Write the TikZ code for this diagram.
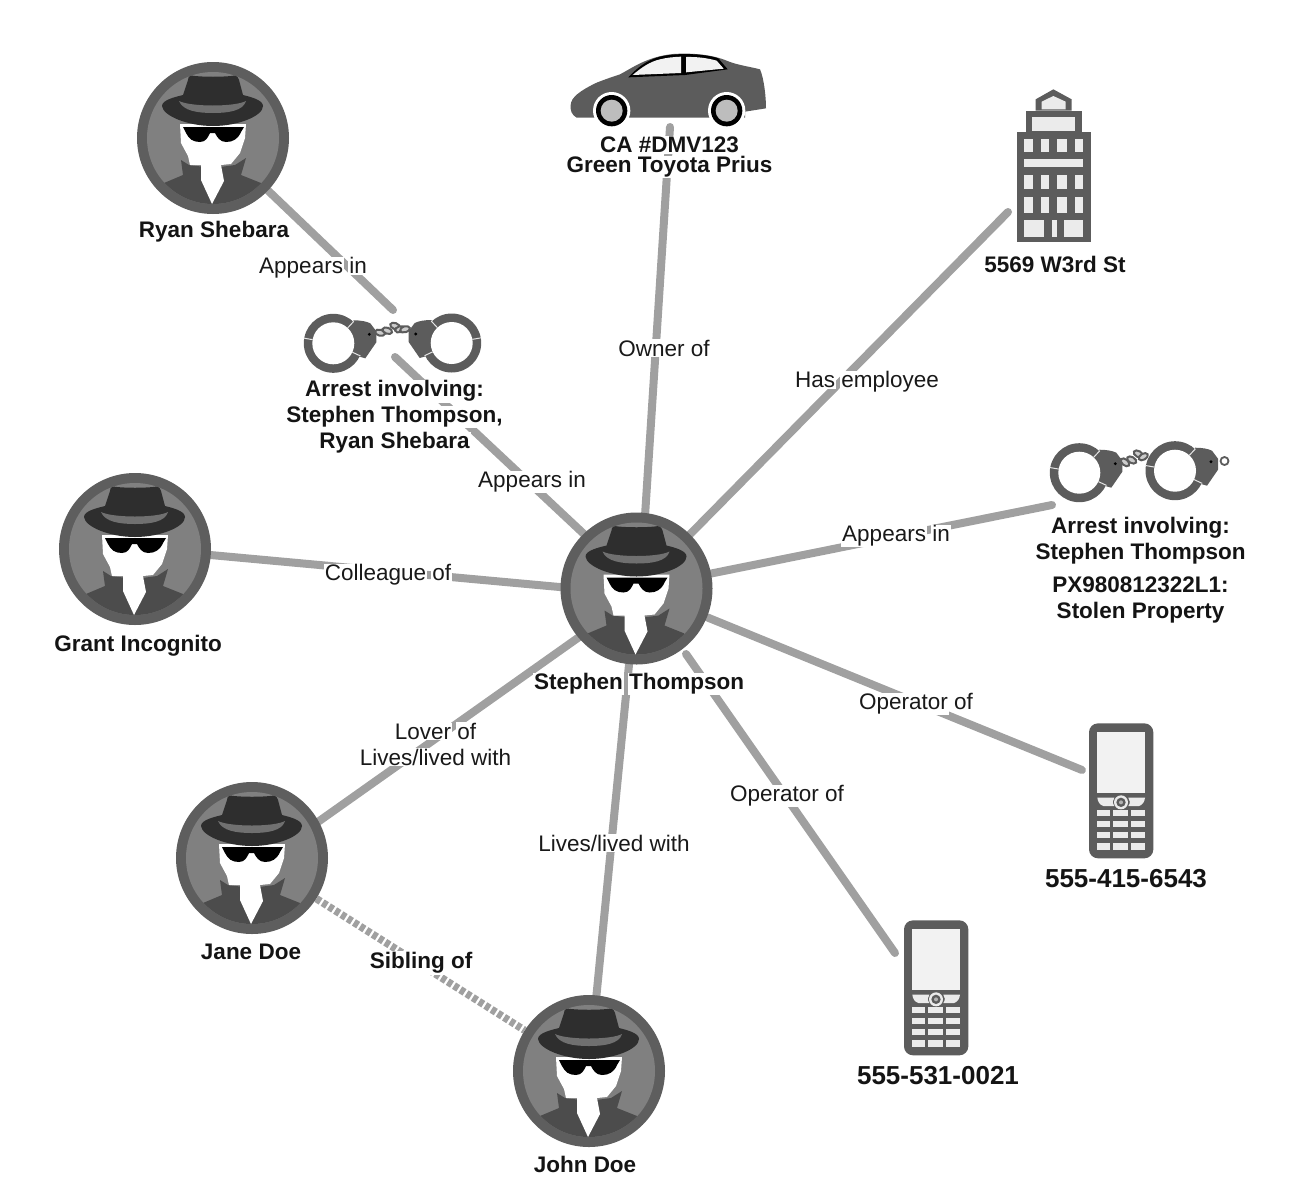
\documentclass[tikz,border=0pt]{standalone}
\usepackage{fontspec}
\setmainfont{Liberation Sans}
\setlength{\fboxsep}{1pt}
\lineskiplimit=-1000pt
\newcommand{\wb}[1]{\hspace{-1pt}\colorbox{white}{#1}\hspace{-1pt}}
\definecolor{lineg}{HTML}{A0A0A0}
\definecolor{ringg}{HTML}{5E5E5E}
\definecolor{innerg}{HTML}{808080}
\definecolor{hatg}{HTML}{2E2E2E}
\definecolor{bandg}{HTML}{707070}
\definecolor{coatg}{HTML}{4C4C4C}
\definecolor{icong}{HTML}{5C5C5C}
\definecolor{paneg}{HTML}{EBEBEB}
\tikzset{
  conn/.style={draw=lineg,line width=8pt,line cap=round},
  sib/.style={draw=lineg,line width=7.5pt,dash pattern=on 5pt off 2.4pt},
  person/.style={circle,minimum size=152pt,inner sep=0pt},
  edgelab/.style={font=\fontsize{22.5}{26}\selectfont,align=center,inner sep=0pt,text=black!90},
  namelab/.style={font=\fontsize{22.5}{26}\bfseries\selectfont,align=center,inner sep=0pt,text=black!92},
  carlab/.style={font=\fontsize{22.5}{20}\bfseries\selectfont,align=center,inner sep=0pt,text=black!92},
  numlab/.style={font=\fontsize{26}{30}\bfseries\selectfont,align=center,inner sep=0pt,text=black!92},
  seam/.style={draw=white!90!black,line width=1pt},
  chainlink/.style={draw=icong,line width=2pt,fill=white!80!black},
  agent/.pic={
    \fill[ringg] (0,0) circle (76);
    \fill[innerg] (0,0) circle (66);
    \begin{scope}
      \clip (0,0) circle (66);
      \fill[coatg] (-49,45) -- (-30,37) -- (-32,22) -- (-24,27) -- (0,30) -- (22,27) -- (33,20) -- (28,37) -- (48,45) -- (60,80) -- (-60,80) -- cycle;
    \end{scope}
    \fill[white] (-33,-14) -- (33,-14) -- (32,0) -- (27,15) -- (18,26) -- (8,27) -- (11,43) -- (-1,66) -- (-12,42) -- (-12,27) -- (-23,27) -- (-25,18) -- (-32,5) -- cycle;
    \fill[black] (-30,-11) -- (31,-11) -- (28,-6) .. controls (25,1) and (20,4) .. (13,4) .. controls (7,4) and (4,-1) .. (2,-5) -- (-3,-5) .. controls (-5,-1) and (-7,4) .. (-13,4) .. controls (-20,4) and (-24,1) .. (-27,-5) -- cycle;
    \fill[hatg] (-51,-32) .. controls (-50,-22) and (-25,-12) .. (0,-12) .. controls (25,-12) and (50,-22) .. (50,-32) .. controls (50,-38) and (38,-41) .. (30,-43) -- (26,-58) .. controls (25,-62) and (22,-63) .. (18,-62) .. controls (8,-61) and (-8,-61) .. (-18,-62) .. controls (-22,-63) and (-25,-62) .. (-25,-58) -- (-30,-43) .. controls (-38,-41) and (-51,-38) .. (-51,-32) -- cycle;
    \fill[bandg] (-34,-37) .. controls (-22,-31) and (22,-31) .. (33,-37) .. controls (30,-27) and (15,-25) .. (0,-25) .. controls (-15,-25) and (-30,-27) .. (-34,-37) -- cycle;
  },
  cuff/.pic={
    \fill[icong] (0,0) circle (29.5);
    \fill[icong] (20,-23) .. controls (27,-23) and (33,-22) .. (37,-20) -- (43,-12) -- (43,-1) -- (32,15) -- (25,13) -- cycle;
    \fill[white] (0,0) circle (21);
    \draw[seam] (-47:21) -- (-47:30);
    \draw[seam] (25:21) -- (25:30);
    \draw[seam] (190:21) -- (190:30);
    \fill[black] (36,-9) circle (1.6);
  },
  car/.pic={
    \begin{scope}[scale=1/3]
      \fill[icong] (32,195) .. controls (33,172) and (60,152) .. (110,128) .. controls (140,116) and (160,110) .. (180,103) .. controls (215,85) and (260,50) .. (340,42) .. controls (400,38) and (460,45) .. (500,62) .. controls (530,75) and (570,80) .. (600,88) .. controls (612,115) and (618,170) .. (618,205) -- (555,215) -- (555,233) -- (50,233) .. controls (35,225) and (30,210) .. (32,195) -- cycle;
      \fill[black] (205,112) .. controls (230,85) and (260,60) .. (300,50) .. controls (350,38) and (430,40) .. (475,55) -- (503,88) -- (375,105) -- cycle;
      \fill[white!95!black] (218,105) .. controls (245,82) and (270,65) .. (300,58) .. controls (320,53) and (340,51) .. (363,50) -- (363,99) -- cycle;
      \fill[white!95!black] (378,51) .. controls (415,50) and (445,55) .. (470,62) -- (491,86) -- (378,97) -- cycle;
      \foreach \w in {155,500} {
        \fill[white] (\w,212) circle (56);
        \fill[black] (\w,212) circle (47);
        \fill[white!74!black] (\w,212) circle (33);
      }
    \end{scope}
  },
  tower/.pic={
    \begin{scope}[scale=1/3]
      \fill[icong] (52,155) rectangle (272,487);
      \fill[icong] (78,92) rectangle (245,155);
      \fill[icong] (107,92) -- (107,58) -- (160,28) -- (215,58) -- (215,92) -- cycle;
      \fill[paneg] (125,88) -- (125,65) -- (160,48) -- (197,65) -- (197,88) -- cycle;
      \fill[paneg] (97,110) rectangle (225,153);
      \foreach \ya/\yb in {177/215,284/327,352/400} {
        \fill[paneg] (72,\ya) rectangle (100,\yb);
        \fill[paneg] (122,\ya) rectangle (148,\yb);
        \fill[paneg] (171,\ya) rectangle (200,\yb);
        \fill[paneg] (224,\ya) rectangle (250,\yb);
      }
      \fill[paneg] (72,237) rectangle (250,262);
      \fill[paneg] (72,420) rectangle (133,470);
      \fill[paneg] (155,420) rectangle (170,470);
      \fill[paneg] (193,420) rectangle (250,470);
    \end{scope}
  },
  mobile/.pic={
    \begin{scope}[scale=1/3]
      \fill[icong,rounded corners=9pt] (42,25) rectangle (235,430);
      \fill[white!95!black] (67,50) rectangle (210,235);
      \fill[paneg] (67,248) -- (118,248) .. controls (112,255) and (112,265) .. (118,273) -- (85,273) .. controls (75,270) and (68,260) .. (67,248) -- cycle;
      \fill[paneg] (210,248) -- (160,248) .. controls (166,255) and (166,265) .. (160,273) -- (192,273) .. controls (202,270) and (209,260) .. (210,248) -- cycle;
      \fill[paneg] (138,262) circle (21);
      \fill[icong] (138,262) circle (14);
      \fill[white!70!black] (138,262) circle (6);
      \foreach \ya/\yb in {285/304,317/337,350/370,384/405} {
        \fill[paneg] (67,\ya) rectangle (105,\yb);
        \fill[paneg] (115,\ya) rectangle (158,\yb);
        \fill[paneg] (168,\ya) rectangle (210,\yb);
      }
    \end{scope}
  }
}
\begin{document}
\begin{tikzpicture}[x=1pt,y=-1pt]
\useasboundingbox (0,0) rectangle (1311,1200);
% people
\node[person] (stephen) at (636.5,588.5) {};
\node[person] (ryan) at (213,138) {};
\node[person] (grant) at (135,549) {};
\node[person] (jane) at (252,858) {};
\node[person] (john) at (589,1071) {};
% connector ports
\coordinate (cuffAtop) at (393,310);
\coordinate (cuffAbot) at (395,357);
\coordinate (carport) at (670,127);
\coordinate (towerport) at (1008,212);
\coordinate (cuffBport) at (1052,505);
\coordinate (phoneAport) at (1082,770);
\coordinate (phoneBport) at (895,953);
\coordinate (stCuff) at (585,535);
\coordinate (stCar) at (645,516);
\coordinate (stGrant) at (565,587.5);
\coordinate (stJane) at (582,635);
\coordinate (stPhoneB) at (686,654);
\coordinate (janeEnd) at (315,824);
\coordinate (grantEnd) at (205,554.5);
% connectors
\draw[conn] (ryan) -- (cuffAtop);
\draw[conn] (stCuff) -- (cuffAbot);
\draw[conn] (stCar) -- (carport);
\draw[conn] (stephen) -- (towerport);
\draw[conn] (stephen) -- (cuffBport);
\draw[conn] (stephen) -- (phoneAport);
\draw[conn] (stPhoneB) -- (phoneBport);
\draw[conn] (stephen) -- (john);
\draw[conn] (stJane) -- (janeEnd);
\draw[conn] (stGrant) -- (grantEnd);
\draw[sib] (jane) -- (john);
% icons
\foreach \p in {stephen,ryan,grant,jane,john} \pic at (\p) {agent};
\pic at (333.3,343.3) {cuff};
\pic[xscale=-1] at (451.7,343) {cuff};
\foreach \x/\y/\r in {380/332.7/-15,387.3/330.7/-20,395/326/-20,400/329.3/15,405/329.3/15}
  \draw[chainlink,shift={(\x,\y)},rotate=\r] (0,0) ellipse (5 and 3);
\pic at (1079.3,472.7) {cuff};
\pic at (1175,470.7) {cuff};
\foreach \x/\y/\r in {1125/462.3/-40,1131.7/460/-30,1138.3/454/-30,1143.3/456.7/30}
  \draw[chainlink,shift={(\x,\y)},rotate=\r] (0,0) ellipse (5 and 3);
\draw[draw=icong,line width=1.8pt,fill=white] (1224.5,461) circle (4);
\pic at (560,40) {car};
\pic at (1000,80) {tower};
\pic at (1075,715) {mobile};
\pic at (890,912) {mobile};
% edge labels
\node[edgelab] (l1) at (313,268) {\wb{Appears} \wb{in}};
\node[edgelab] (l2) at (532,482) {\wb{Appears} \wb{in}};
\node[edgelab] (l3) at (664,348) {\wb{Owner} \wb{of}};
\node[edgelab] (l4) at (867,382) {\wb{Has} \wb{employee}};
\node[edgelab] (l5) at (896,536) {\wb{Appears} \wb{in}};
\node[edgelab] (l6) at (388,575) {\wb{Colleague} \wb{of}};
\node[edgelab] (l7) at (916,704) {\wb{Operator} \wb{of}};
\node[edgelab] (l8) at (787,796) {\wb{Operator} \wb{of}};
\node[edgelab] (l9) at (614,843) {\wb{Lives/lived} \wb{with}};
\node[edgelab] (l10) at (436,744) {\wb{Lover} \wb{of}\\\wb{Lives/lived} \wb{with}};
\node[namelab] (l11) at (421,963) {\wb{Sibling} \wb{of}};
% names
\node[namelab] (n1) at (214,232) {\wb{Ryan} \wb{Shebara}};
\node[namelab] (n2) at (639,684) {\wb{Stephen} \wb{Thompson}};
\node[namelab] (n3) at (138,646) {\wb{Grant} \wb{Incognito}};
\node[namelab] (n4) at (251,952) {\wb{Jane} \wb{Doe}};
\node[namelab] (n5) at (585,1164) {\wb{John} \wb{Doe}};
\node[namelab] (n6) at (1055,264) {\wb{5569} \wb{W3rd} \wb{St}};
\node[namelab] (n7) at (395,417) {\wb{Arrest} \wb{involving:}\\\wb{Stephen} \wb{Thompson,}\\\wb{Ryan} \wb{Shebara}};
\node[namelab] (n8) at (1141,570) {\wb{Arrest} \wb{involving:}\\\wb{Stephen} \wb{Thompson}\\[7pt]\wb{PX980812322L1:}\\\wb{Stolen} \wb{Property}};
\node[carlab] (n9) at (670,157) {\wb{CA} \wb{\#DMV123}\\\wb{Green} \wb{Toyota} \wb{Prius}};
\node[numlab] (n10) at (1126,879) {\wb{555-415-6543}};
\node[numlab] (n11) at (938,1076) {\wb{555-531-0021}};
\end{tikzpicture}
\end{document}
